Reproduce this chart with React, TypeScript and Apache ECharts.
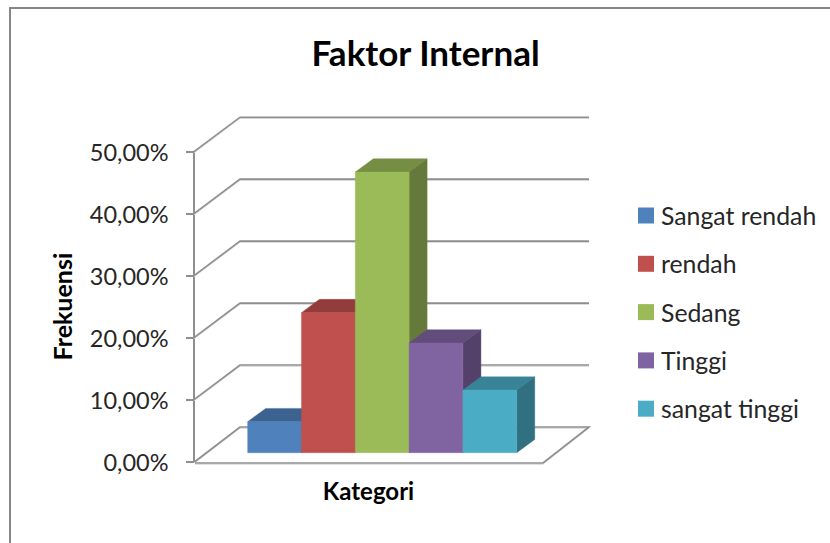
import React, { useEffect, useRef } from "react";
import * as echarts from "echarts";

const chartTitle = "Faktor Internal";
const categories = ["Kategori"];
const seriesNames = ["Sangat rendah", "rendah", "Sedang", "Tinggi", "sangat tinggi"];
const seriesValues = [5.0, 22.6, 45.3, 17.7, 10.1];
const seriesColors = ["#4f81bd", "#c0504d", "#9bbb59", "#8064a2", "#4bacc6"];
const yTicks = [0, 10, 20, 30, 40, 50];
const xAxisName = "Kategori";
const yAxisName = "Frekuensi";

const FONT = "Lato, Carlito, 'Noto Sans', sans-serif";
const WALL_DX = 46;
const WALL_DY = -34.5;
const FLOOR_FRONT_DROP = 1.5;
const BAR_PLANE_DX = 13.7;
const BAR_PLANE_DY = -8.8;
const BAR_DEPTH_DX = 18;
const BAR_DEPTH_DY = -13.3;
const BAR_BAND_RATIO = 0.1542;
const LINE = "#8e8e8e";
const LINE_SOFT = "#d4d4d4";

function shade(hex: string, f: number) {
  const n = parseInt(hex.slice(1), 16);
  const c = [(n >> 16) & 255, (n >> 8) & 255, n & 255].map((v) => Math.round(v * f));
  return `rgb(${c[0]},${c[1]},${c[2]})`;
}

function renderWall(params: any, api: any) {
  const v = api.value(1);
  const p = api.coord([0, v]);
  const cs = params.coordSys;
  const x0 = cs.x;
  const x1 = cs.x + cs.width;
  const y = p[1];
  const by = y + WALL_DY;
  const children: any[] = [];
  const pts =
    v === 0
      ? [
          [x0 + 1, y + FLOOR_FRONT_DROP],
          [x1, y + FLOOR_FRONT_DROP],
          [x1 + WALL_DX, by],
          [x0 + WALL_DX, by],
          [x0 + 1, y],
        ]
      : [
          [x0, y],
          [x0 + WALL_DX, by],
          [x1 + WALL_DX, by],
        ];
  children.push({
    type: "polyline",
    shape: { points: pts.map((q) => [q[0], q[1] + 1.2]) },
    style: { stroke: LINE_SOFT, fill: "none", lineWidth: 1 },
    silent: true,
  });
  children.push({
    type: "polyline",
    shape: { points: pts },
    style: { stroke: LINE, fill: "none", lineWidth: 1.6 },
    silent: true,
  });
  return { type: "group", children };
}

function makeBarRenderer(index: number) {
  return function (params: any, api: any) {
    const base = api.coord([0, 0]);
    const top = api.coord([0, api.value(1)]);
    const w = api.size([1, 0])[0] * BAR_BAND_RATIO;
    const left = base[0] + BAR_PLANE_DX + (index - seriesNames.length / 2) * w;
    const right = left + w;
    const yb = base[1] + BAR_PLANE_DY;
    const yt = top[1] + BAR_PLANE_DY;
    const color = seriesColors[index];
    const poly = (points: number[][], fill: string) => ({
      type: "polygon",
      shape: { points },
      style: { fill, stroke: fill, lineWidth: 0.4 },
      silent: true,
    });
    return {
      type: "group",
      children: [
        poly(
          [
            [left, yt],
            [right, yt],
            [right + BAR_DEPTH_DX, yt + BAR_DEPTH_DY],
            [left + BAR_DEPTH_DX, yt + BAR_DEPTH_DY],
          ],
          shade(color, 0.76)
        ),
        poly(
          [
            [right, yt],
            [right + BAR_DEPTH_DX, yt + BAR_DEPTH_DY],
            [right + BAR_DEPTH_DX, yb + BAR_DEPTH_DY],
            [right, yb],
          ],
          shade(color, 0.65)
        ),
        poly(
          [
            [left, yt],
            [right, yt],
            [right, yb],
            [left, yb],
          ],
          color
        ),
      ],
    };
  };
}

export default function App() {
  const ref = useRef<HTMLDivElement>(null);
  useEffect(() => {
    const chart = echarts.init(ref.current as HTMLDivElement, undefined, { renderer: "svg" });
    chart.setOption({
      animation: false,
      backgroundColor: "#ffffff",
      textStyle: { fontFamily: FONT },
      title: {
        text: chartTitle,
        left: 420.5,
        top: 29,
        textAlign: "center",
        textStyle: { fontFamily: FONT, fontWeight: "bold", fontSize: 35, color: "#000000" },
      },
      grid: { left: 194, right: 287, top: 151.7, bottom: 81.5 },
      xAxis: {
        type: "category",
        data: categories,
        name: xAxisName,
        nameLocation: "middle",
        nameGap: 17,
        nameTextStyle: { fontFamily: FONT, fontWeight: "bold", fontSize: 24, color: "#000000" },
        axisLine: { show: false },
        axisTick: { show: false },
        axisLabel: { show: false },
        splitLine: { show: false },
      },
      yAxis: {
        type: "value",
        min: 0,
        max: 50,
        interval: 10,
        name: yAxisName,
        nameLocation: "middle",
        nameRotate: 90,
        nameGap: 120,
        nameTextStyle: { fontFamily: FONT, fontWeight: "bold", fontSize: 25, color: "#000000" },
        axisLine: { show: true, lineStyle: { color: LINE, width: 2 } },
        axisTick: { show: true, length: 8, lineStyle: { color: LINE, width: 2 } },
        splitLine: { show: false },
        axisLabel: {
          margin: 25.5,
          fontFamily: FONT,
          fontSize: 23.5,
          color: "#262626",
          padding: [6, 0, 0, 0],
          formatter: (v: number) => v.toFixed(2).replace(".", ",") + "%",
        },
      },
      legend: {
        orient: "vertical",
        left: 638,
        top: 203,
        padding: 0,
        itemWidth: 16,
        itemHeight: 16,
        itemGap: 23.3,
        icon: "rect",
        data: seriesNames,
        textStyle: { fontFamily: FONT, fontSize: 24.8, color: "#262626", padding: [0, 0, 0, 2] },
      },
      graphic: [
        {
          type: "line",
          shape: { x1: 9, y1: 8, x2: 830, y2: 8 },
          style: { stroke: "#868686", lineWidth: 2 },
          silent: true,
        },
        {
          type: "line",
          shape: { x1: 10, y1: 8, x2: 10, y2: 543 },
          style: { stroke: "#868686", lineWidth: 2 },
          silent: true,
        },
      ],
      series: [
        {
          type: "custom",
          name: "wall",
          renderItem: renderWall,
          encode: { x: 0, y: 1 },
          data: yTicks.map((t) => [0, t]),
          z: 1,
          silent: true,
        },
        ...seriesNames.map((name, i) => ({
          type: "custom",
          name,
          renderItem: makeBarRenderer(i),
          encode: { x: 0, y: 1 },
          itemStyle: { color: seriesColors[i] },
          data: [[0, seriesValues[i]]],
          z: 2 + i,
          silent: true,
        })),
      ],
    });
    return () => chart.dispose();
  }, []);
  return (
    <div
      ref={ref}
      style={{ position: "fixed", left: 0, top: 0, width: 830, height: 543 }}
    />
  );
}
